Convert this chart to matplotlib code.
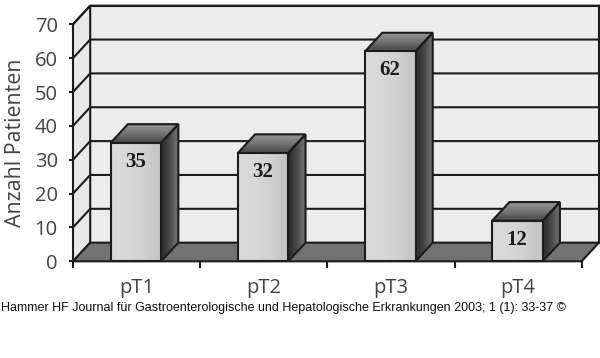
import numpy as np
import matplotlib
matplotlib.use("Agg")
import matplotlib.pyplot as plt
from matplotlib.patches import Polygon

categories = ["pT1", "pT2", "pT3", "pT4"]
patients = [35, 32, 62, 12]
y_ticks = [0, 10, 20, 30, 40, 50, 60, 70]
caption = "Hammer HF Journal für Gastroenterologische und Hepatologische Erkrankungen 2003; 1 (1): 33-37 ©"

W, H = 600, 358
DX = 0.135   # depth of the fake 3d, in category units
DY = 5.5     # depth in value units
BAR_W = 0.397
LINE = "#1c1c1c"
LW = 1.5

fig = plt.figure(figsize=(W / 100, H / 100), dpi=100, facecolor="white")
ax = fig.add_axes([73 / W, 1 - 261.3 / H, 508.7 / W, 237 / H])
ax.set_xlim(0, 4)
ax.set_ylim(0, 70)
ax.patch.set_visible(False)
for s in ax.spines.values():
    s.set_visible(False)


def poly(pts, fc="none", z=1, lw=LW):
    p = Polygon(pts, closed=True, facecolor=fc, edgecolor=LINE, linewidth=lw,
                zorder=z, clip_on=False, joinstyle="miter")
    ax.add_patch(p)
    return p


def grad_poly(pts, grad, vertical, z):
    pts = np.array(pts)
    arr = np.array(grad, dtype=float).reshape((-1, 1) if vertical else (1, -1))
    ext = [pts[:, 0].min(), pts[:, 0].max(), pts[:, 1].min(), pts[:, 1].max()]
    im = ax.imshow(arr, cmap="gray", vmin=0, vmax=1, extent=ext, aspect="auto",
                   origin="upper", interpolation="bilinear", zorder=z, clip_on=True)
    p = Polygon(pts, closed=True, facecolor="none", edgecolor="none", transform=ax.transData)
    ax.add_patch(p)
    im.set_clip_path(p)
    poly(pts, z=z + 0.1)


# walls and floor
poly([(DX, DY), (4 + DX, DY), (4 + DX, 70 + DY), (DX, 70 + DY)], fc="#ececec", z=1)
poly([(0, 0), (DX, DY), (DX, 70 + DY), (0, 70)], fc="#e8e8e8", z=1)
poly([(0, 0), (4, 0), (4 + DX, DY), (DX, DY)], fc="#727272", z=2)

# gridlines on both walls
for v in y_ticks[1:]:
    ax.plot([0, DX, 4 + DX], [v, v + DY, v + DY], color=LINE, lw=LW, zorder=1.5, clip_on=False)

# bars
for i, v in enumerate(patients):
    x0 = i + 0.5 - BAR_W / 2 - 0.005
    x1 = x0 + BAR_W
    grad_poly([(x1, 0), (x1 + DX, DY), (x1 + DX, v + DY), (x1, v)],
              [0.2, 0.29, 0.42], False, 3)
    grad_poly([(x0, v), (x1, v), (x1 + DX, v + DY), (x0 + DX, v + DY)],
              [0.55, 0.45, 0.33], True, 3)
    grad_poly([(x0, 0), (x1, 0), (x1, v), (x0, v)],
              [0.85, 0.84, 0.82, 0.77], False, 3.5)
    ax.text((x0 + x1) / 2 - 0.005, v - 5.6, str(v), ha="center", va="center", fontsize=15,
            fontweight="bold", family="Liberation Serif", color="#1c1c1c", zorder=5)

ax.set_xlim(0, 4)
ax.set_ylim(0, 70)

# axis ticks and labels
ax.set_yticks(y_ticks)
ax.set_yticklabels([str(v) for v in y_ticks], fontsize=14.5, family="Open Sans", color="#444444")
ax.set_xticks(range(5))
ax.set_xticklabels([])
ax.set_xticks(np.arange(4) + 0.5, categories, minor=True, fontsize=14.5, family="Open Sans", color="#444444")
ax.tick_params(axis="y", length=3, width=LW, color=LINE, pad=8)
ax.tick_params(axis="x", which="major", length=5, width=LW, color=LINE)
ax.tick_params(axis="x", which="minor", length=0, pad=12)

fig.text(16 / W, 1 - 143 / H, "Anzahl Patienten", rotation=90, ha="center", va="center",
         fontsize=15.4, family="Open Sans", color="#444444")
fig.text(1 / W, 1 - 308.5 / H, caption, ha="left", va="center", fontsize=9.0,
         family="Liberation Sans", color="#111111")

fig.savefig("out.png", dpi=100, facecolor="white")
